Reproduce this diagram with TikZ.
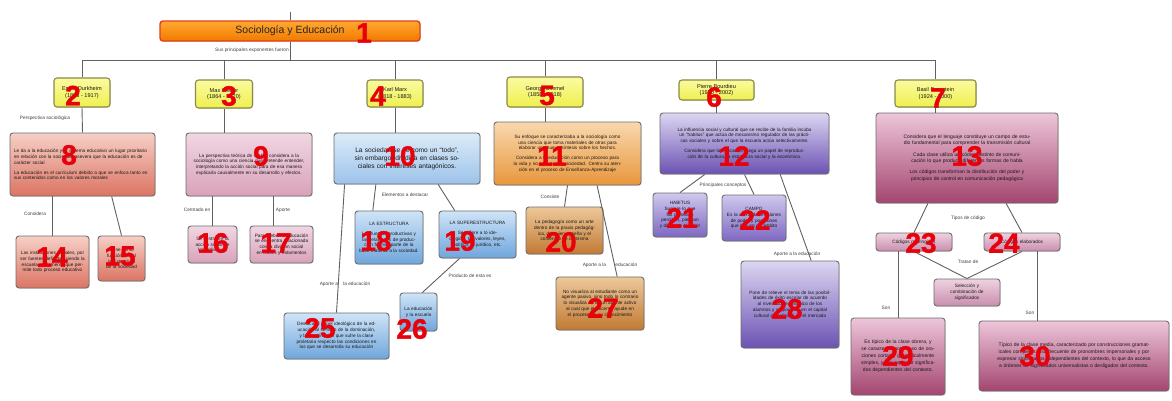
\documentclass[tikz,border=0pt]{standalone}
\usepackage{fontspec}
\setmainfont{Liberation Sans}
\usetikzlibrary{calc,shadows}
\definecolor{numred}{HTML}{E8000A}
\definecolor{edgegray}{HTML}{6E6E6E}
\definecolor{orT}{HTML}{FFA830}\definecolor{orB}{HTML}{F27A00}\definecolor{orE}{HTML}{E2401A}
\definecolor{yeT}{HTML}{FBFBA0}\definecolor{yeB}{HTML}{EFEF50}\definecolor{yeE}{HTML}{8A8A4A}
\definecolor{saT}{HTML}{F6CFC6}\definecolor{saB}{HTML}{DC7463}
\definecolor{piT}{HTML}{F0D6E2}\definecolor{piB}{HTML}{D9A2BA}
\definecolor{blT}{HTML}{DCEBF9}\definecolor{blB}{HTML}{9CC3EA}
\definecolor{bdT}{HTML}{CFE4F8}\definecolor{bdB}{HTML}{6FA6DC}
\definecolor{ogT}{HTML}{F9D8AE}\definecolor{ogB}{HTML}{E8963C}
\definecolor{brT}{HTML}{EDC89A}\definecolor{brB}{HTML}{C27A34}
\definecolor{puT}{HTML}{DCD6F2}\definecolor{puB}{HTML}{6B52B2}
\definecolor{plT}{HTML}{CFC8EE}\definecolor{plB}{HTML}{7E68C2}
\definecolor{mgT}{HTML}{EDC6DA}\definecolor{mgB}{HTML}{A4456F}
\definecolor{lpT}{HTML}{EED2E0}\definecolor{lpB}{HTML}{C98EAD}
\newcommand\boxfont{\fontsize{4.7}{5.8}\selectfont}
\newcommand\labfont{\fontsize{4.8}{5.8}\selectfont}
\newcommand\numfont{\fontsize{28}{28}\selectfont\bfseries\addfontfeatures{FakeBold=1.2}}
\tikzset{
  box/.style={rectangle, rounded corners=3pt, line width=0.9pt, draw=edgegray, align=center,
    inner sep=2pt, text=black!90, font=\boxfont,
    drop shadow={shadow xshift=0.8pt, shadow yshift=-0.8pt, opacity=0.25}},
  orbox/.style={box, top color=orT, bottom color=orB, draw=orE, line width=1.4pt, font=\fontsize{10.5}{12}\selectfont, text=black!85},
  yebox/.style={box, top color=yeT, bottom color=yeB, draw=yeE, line width=1.1pt, font=\fontsize{5.6}{6.6}\selectfont},
  sabox/.style={box, top color=saT, bottom color=saB},
  pibox/.style={box, top color=piT, bottom color=piB},
  blbox/.style={box, top color=blT, bottom color=blB},
  bdbox/.style={box, top color=bdT, bottom color=bdB},
  ogbox/.style={box, top color=ogT, bottom color=ogB},
  brbox/.style={box, top color=brT, bottom color=brB},
  pubox/.style={box, top color=puT, bottom color=puB},
  plbox/.style={box, top color=plT, bottom color=plB},
  mgbox/.style={box, top color=mgT, bottom color=mgB},
  lpbox/.style={box, top color=lpT, bottom color=lpB},
  conn/.style={draw=black!62, line width=0.9pt},
  lab/.style={font=\labfont, text=black!75, inner sep=0pt},
  num/.style={font=\numfont, text=numred, inner sep=0pt},
}
\begin{document}
\begin{tikzpicture}[x=1pt,y=-1pt]
\useasboundingbox[fill=white] (0,0) rectangle (1172,400);

% ---------------- top level
\coordinate (top) at (290,12);
\coordinate (bus) at (290,60);
\node[orbox, minimum width=260pt, minimum height=20pt] (n1) at (290,31) {Sociología y Educación};
\node[yebox, minimum width=56pt, minimum height=29pt] (n2) at (82,92.5) {Emile Durkheim\\(1858 - 1917)};
\node[yebox, minimum width=57pt, minimum height=28pt] (n3) at (224,94) {Max Weber\\(1864 - 1920)};
\node[yebox, minimum width=56pt, minimum height=27pt] (n4) at (395,93.5) {Karl Marx\\(1818 - 1883)};
\node[yebox, minimum width=76pt, minimum height=30pt] (n5) at (545,92) {George Simmel\\(1858 - 1918)};
\node[yebox, minimum width=75pt, minimum height=20pt] (n6) at (716.5,90) {Pierre Bourdieu\\(1930 - 2002)};
\node[yebox, minimum width=81pt, minimum height=27pt] (n7) at (935.5,93.5) {Basil Bernstein\\(1924 - 2000)};

% ---------------- second level
\node[sabox, minimum width=145pt, minimum height=63pt, text width=137pt, align=left] (n8) at (82.5,164.5)
 {Le da a la educación y al sistema educativo un lugar prioritario en relación con la sociedad, asevera que la educación es de carácter social\\[4pt]La educación es el curriculum debido a que se enfoca tanto en sus contenidos como en los valores morales};
\node[pibox, minimum width=126pt, minimum height=63pt, text width=118pt] (n9) at (249,164.5)
 {La perspectiva teórica de Weber considera a la sociología como una ciencia que pretende entender, interpretando la acción social para de esa manera explicarla causalmente en su desarrollo y efectos.};
\node[blbox, minimum width=146pt, minimum height=51pt, text width=136pt, font=\fontsize{6.6}{7.8}\selectfont] (n10) at (407,158.5)
 {La sociedad se ve como un ``todo'', sin embargo, dividida en clases sociales con intereses antagónicos.};
\node[ogbox, minimum width=147pt, minimum height=63pt, text width=139pt] (n11) at (567.5,153.5)
 {Su enfoque se caracterizaba a la sociología como una ciencia que toma materiales de otras para elaborar una nueva síntesis sobre los hechos.\\[4pt]Considera a la educación como un proceso para la vida y no sólo para la sociedad. Centra su atención en el proceso de Enseñanza-Aprendizaje};
\node[pubox, minimum width=169pt, minimum height=61pt, text width=161pt] (n12) at (744.5,143.5)
 {La influencia social y cultural que se recibe de la familia incuba un ``habitus'' que actúa de mecanismo regulador de las prácticas sociales y sobre el que la escuela actúa selectivamente.\\[4pt]Considera que la educación juega un papel de reproducción de la cultura, la estructura social y la económica.};
\node[mgbox, minimum width=182pt, minimum height=90pt, text width=172pt, font=\fontsize{5}{6.4}\selectfont] (n13) at (967,158)
 {Considera que el lenguaje constituye un campo de estudio fundamental para comprender la transmisión cultural\\[5pt]Cada clase utiliza un código distinto de comunicación lo que produce diferentes formas de habla\\[5pt]Los códigos transforman la distribución del poder y principios de control en comunicación pedagógica};

% ---------------- third level
\node[sabox, minimum width=73pt, minimum height=52pt, text width=65pt] (n14) at (52.5,262)
 {Las instituciones sociales, por ser fuentes definidas siendo la escuela el elemento que permite todo proceso educativo};
\node[sabox, minimum width=47pt, minimum height=45pt, text width=41pt] (n15) at (121.5,258.5)
 {Tiene como función social la Estructura de la sociedad};
\node[pibox, minimum width=49pt, minimum height=37pt, text width=43pt] (n16) at (212.5,244.5)
 {Se centra en la acción social de los individuos};
\node[pibox, minimum width=63pt, minimum height=37pt, text width=57pt] (n17) at (281.5,244.5)
 {Para Weber la educación se encuentra relacionada con la división social en clases y estamentos};
\node[bdbox, minimum width=68pt, minimum height=53pt, text width=60pt] (n18) at (389,237.5)
 {LA ESTRUCTURA\\[4pt]Las fuerzas productivas y las relaciones de producción forman parte de la base material a la sociedad.};
\node[bdbox, minimum width=77pt, minimum height=47pt, text width=70pt] (n19) at (477.5,234.5)
 {LA SUPERESTRUCTURA\\[4pt]Se refiere a lo ideológico: los valores, leyes, política, lo jurídico, etc.};
\node[brbox, minimum width=77pt, minimum height=47pt, text width=69pt] (n20) at (564.5,230.5)
 {La pedagogía como un arte dentro de la praxis pedagógica, de quien enseña y el contenido de la misma};
\node[plbox, minimum width=54pt, minimum height=44pt, text width=48pt] (n21) at (680,215)
 {HABITUS\\Sugiere lo que las personas perciben, piensan y dicen en el saber};
\node[plbox, minimum width=64pt, minimum height=46pt, text width=58pt] (n22) at (754,218)
 {CAMPO\\Es la arena de relaciones de poder y posiciones que hay en un ámbito};
\node[lpbox, minimum width=76pt, minimum height=18pt, text width=70pt] (n23) at (914,242) {Códigos restringidos};
\node[lpbox, minimum width=76pt, minimum height=18pt, text width=70pt] (n24) at (1022,242) {Códigos elaborados};
\node[lpbox, minimum width=66pt, minimum height=27pt, text width=58pt] (nsel) at (967,292.5) {Selección y\\combinación de\\significados};

% ---------------- fourth level
\node[bdbox, minimum width=105pt, minimum height=46pt, text width=97pt] (n25) at (336.5,336)
 {Destaca el papel ideológico de la educación al servicio de la dominación, y la marginación que sufre la clase proletaria respecto las condiciones en las que se desarrolla su educación};
\node[bdbox, minimum width=37pt, minimum height=38pt, text width=33pt] (n26) at (418.5,312) {La educación y la escuela};
\node[brbox, minimum width=88pt, minimum height=53pt, text width=80pt] (n27) at (600,303.5)
 {No visualiza al estudiante como un agente pasivo, sino todo lo contrario lo visualiza como un agente activo al cual que el docente ayude en el proceso de su conocimiento};
\node[pubox, minimum width=98pt, minimum height=87pt, text width=88pt] (n28) at (790,304.5)
 {Pone de relieve el tema de las posibilidades de éxito escolar de acuerdo al nivel socioeconómico de los alumnos y su posición en el capital cultural globalizado en el mercado};
\node[mgbox, minimum width=94pt, minimum height=77pt, text width=84pt, font=\fontsize{5}{7}\selectfont] (n29) at (898,356.5)
 {Es típico de la clase obrera, y se caracteriza por el uso de oraciones cortas y gramaticalmente simples, y por expresar significados dependientes del contexto.};
\node[mgbox, minimum width=190pt, minimum height=70pt, text width=176pt, font=\fontsize{5}{7}\selectfont] (n30) at (1074,356)
 {Típico de la clase media, caracterizado por construcciones gramaticales complejas, uso frecuente de pronombres impersonales y por expresar significados independientes del contexto, lo que da acceso a órdenes de significados universalistas o desligados del contexto.};

% ---------------- connectors
\draw[conn] (top) -- (n1.north);
\draw[conn] (n1.south) -- (n1.south |- bus);
\draw[conn] (n2.north) -- (n2.north |- bus) -- (n7.north |- bus) -- (n7.north);
\foreach \n in {n3,n4,n5,n6} \draw[conn] (\n.north) -- (\n.north |- bus);
\draw[conn] (n2.south) -- (n8.north);
\draw[conn] (n3.south) -- (n3.south |- n9.north);
\draw[conn] (n4.south) -- (n4.south |- n10.north);
\draw[conn] (n5.south) -- (n5.south |- n11.north);
\draw[conn] (n6.south) -- (n6.south |- n12.north);
\draw[conn] (n7.south) -- (n7.south |- n13.north);

\draw[conn] (n14.north |- n8.south) -- (n14.north);
\draw[conn] ($(n8.south west)!0.70!(n8.south east)$) -- (n15.north);
\draw[conn] (n16.north |- n9.south) -- (n16.north);
\draw[conn] ($(n17.north west)!0.38!(n17.north east)$) coordinate (c17) -- (c17 |- n9.south);
\draw[conn] ($(n10.south west)!0.288!(n10.south east)$) -- ($(n18.north west)!0.265!(n18.north east)$);
\draw[conn] ($(n10.south west)!0.712!(n10.south east)$) -- ($(n19.north west)!0.208!(n19.north east)$);
\draw[conn] ($(n10.south west)!0.075!(n10.south east)$) -- (n25.north);
\draw[conn] ($(n19.south west)!0.27!(n19.south east)$) -- ($(n26.north west)!0.6!(n26.north east)$);
\draw[conn] (n11.south) -- (n20.north);
\draw[conn] ($(n11.south west)!0.70!(n11.south east)$) -- ($(n27.north west)!0.693!(n27.north east)$);
\draw[conn] ($(n12.south west)!0.266!(n12.south east)$) -- (n21.north);
\draw[conn] (n12.south) -- (n22.north);
\draw[conn] ($(n12.south west)!0.71!(n12.south east)$) -- ($(n28.north west)!0.714!(n28.north east)$);
\draw[conn] ($(n13.south west)!0.286!(n13.south east)$) -- (n23.north);
\draw[conn] ($(n13.south west)!0.714!(n13.south east)$) -- (n24.north);
\draw[conn] (n23.south) -- (nsel.north);
\draw[conn] (n24.south) -- (nsel.north);
\draw[conn] (n29.north |- n23.south) -- (n29.north);
\draw[conn] ($(n24.south west)!0.70!(n24.south east)$) coordinate (c24) -- (c24 |- n30.north);

% ---------------- connector labels
\node[lab, anchor=east] (l1) at (289,50) {Sus principales exponentes fueron};
\node[lab] (l2) at (45,118) {Perspectiva sociológica};
\node[lab] (l3) at (35,214) {Considera};
\node[lab] (l4) at (197,210) {Centrado en};
\node[lab] (l5) at (283,210) {Aporte};
\node[lab] (l6) at (405,195) {Elementos a destacar};
\node[lab] (l7) at (345,284) {Aporte a\hspace{4pt} la educación};
\node[lab] (l8) at (470,276) {Producto de esta es};
\node[lab] (l9) at (550,197) {Consiste};
\node[lab] (l10) at (610,265) {Aporte a la\hspace{8pt} educación};
\node[lab] (l11) at (723,185) {Principales conceptos};
\node[lab] (l12) at (797,254) {Aporte a la educación};
\node[lab] (l13) at (968,218) {Tipos de código};
\node[lab] (l14) at (968,262) {Tratan de};
\node[lab] (l15) at (886,308) {Son};
\node[lab] (l16) at (1030,313) {Son};

% ---------------- red numbers
\node[num] (r1) at (364,33) {1};
\node[num] (r2) at (73,95.5) {2};
\node[num] (r3) at (229,96) {3};
\node[num] (r4) at (378,96) {4};
\node[num] (r5) at (547,95.5) {5};
\node[num] (r6) at (714,97) {6};
\node[num] (r7) at (938,98) {7};
\node[num] (r8) at (69,155) {8};
\node[num] (r9) at (261,156) {9};
\node[num] (r10) at (400,156) {10};
\node[num] (r11) at (552,156) {11};
\node[num] (r12) at (734,156) {12};
\node[num] (r13) at (967,156) {13};
\node[num] (r14) at (52,257) {14};
\node[num] (r15) at (120,256) {15};
\node[num] (r16) at (213,243) {16};
\node[num] (r17) at (276,243) {17};
\node[num] (r18) at (376,241) {18};
\node[num] (r19) at (460,241) {19};
\node[num] (r20) at (561,242) {20};
\node[num] (r21) at (682,218) {21};
\node[num] (r22) at (755,220) {22};
\node[num] (r23) at (921,243) {23};
\node[num] (r24) at (1004,243) {24};
\node[num] (r25) at (320,328) {25};
\node[num] (r26) at (412,329) {26};
\node[num] (r27) at (603,308) {27};
\node[num] (r28) at (787,309) {28};
\node[num] (r29) at (898,356) {29};
\node[num] (r30) at (1035,356) {30};
\end{tikzpicture}
\end{document}
